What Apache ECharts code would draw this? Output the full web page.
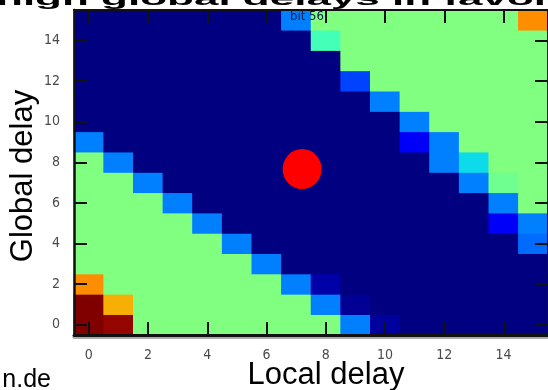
<!DOCTYPE html>
<html>
<head>
<meta charset="utf-8">
<script src="https://cdn.jsdelivr.net/npm/echarts@6/dist/echarts.min.js"></script>
<style>
    html, body { margin: 0; padding: 0; background: #fff; }
    #heat1 { width: 548px; height: 390px; }
</style>
</head>
<body>
<div id="heat1"></div>
<script>
// axis categories (local delay / global delay)
var xCats = ['0','1','2','3','4','5','6','7','8','9','10','11','12','13','14','15'];
var yCats = ['0','1','2','3','4','5','6','7','8','9','10','11','12','13','14','15'];

// cell values, one array per global delay row, col = local delay 0..15
var g15 = [0, 0, 0, 0, 0, 0, 0, 0.25, 0.5, 0.5, 0.5, 0.5, 0.5, 0.5, 0.5, 0.76];
var g14 = [0, 0, 0, 0, 0, 0, 0, 0, 0.43, 0.5, 0.5, 0.5, 0.5, 0.5, 0.5, 0.5];
var g13 = [0, 0, 0, 0, 0, 0, 0, 0, 0, 0.5, 0.5, 0.5, 0.5, 0.5, 0.5, 0.5];
var g12 = [0, 0, 0, 0, 0, 0, 0, 0, 0, 0.19, 0.5, 0.5, 0.5, 0.5, 0.5, 0.5];
var g11 = [0, 0, 0, 0, 0, 0, 0, 0, 0, 0, 0.25, 0.5, 0.5, 0.5, 0.5, 0.5];
var g10 = [0, 0, 0, 0, 0, 0, 0, 0, 0, 0, 0, 0.25, 0.5, 0.5, 0.5, 0.5];
var g9  = [0.25, 0, 0, 0, 0, 0, 0, 0, 0, 0, 0, 0.12, 0.25, 0.5, 0.5, 0.5];
var g8  = [0.5, 0.25, 0, 0, 0, 0, 0, 0, 0, 0, 0, 0, 0.25, 0.34, 0.5, 0.5];
var g7  = [0.5, 0.5, 0.25, 0, 0, 0, 0, 0, 0, 0, 0, 0, 0, 0.25, 0.48, 0.5];
var g6  = [0.5, 0.5, 0.5, 0.25, 0, 0, 0, 0, 0, 0, 0, 0, 0, 0, 0.25, 0.5];
var g5  = [0.5, 0.5, 0.5, 0.5, 0.25, 0, 0, 0, 0, 0, 0, 0, 0, 0, 0.12, 0.25];
var g4  = [0.5, 0.5, 0.5, 0.5, 0.5, 0.25, 0, 0, 0, 0, 0, 0, 0, 0, 0, 0.23];
var g3  = [0.5, 0.5, 0.5, 0.5, 0.5, 0.5, 0.25, 0, 0, 0, 0, 0, 0, 0, 0, 0];
var g2  = [0.76, 0.5, 0.5, 0.5, 0.5, 0.5, 0.5, 0.25, 0.04, 0, 0, 0, 0, 0, 0, 0];
var g1  = [1, 0.72, 0.5, 0.5, 0.5, 0.5, 0.5, 0.5, 0.25, 0.02, 0, 0, 0, 0, 0, 0];
var g0  = [1, 0.98, 0.5, 0.5, 0.5, 0.5, 0.5, 0.5, 0.5, 0.25, 0.03, 0, 0, 0, 0, 0];

var gridRows = [g0, g1, g2, g3, g4, g5, g6, g7, g8, g9, g10, g11, g12, g13, g14, g15];

// red marker (local, global)
var dotPos = [7.2, 7.67];

// jet colormap stops
var jetColors = ['#000080', '#0000ff', '#0080ff', '#14ffe2', '#80ff80', '#e3ff14', '#ff9600', '#ff2100', '#800000'];

var heatData = [];
for (var y = 0; y < gridRows.length; y++) {
    for (var x = 0; x < gridRows[y].length; x++) {
        heatData.push([x, y, gridRows[y][x]]);
    }
}

var heat1 = echarts.init(document.getElementById('heat1'));

var tickStyle = { show: true, inside: true, length: 13, interval: 1, alignWithLabel: true,
                  lineStyle: { color: '#111', width: 2 } };
var labelStyle = { interval: 1, color: '#4a4a4a', fontSize: 14, fontFamily: 'DejaVu Sans Condensed, DejaVu Sans, sans-serif' };

// heatmap drawn twice so the anti-aliased cell seams do not show
function heatSeries(name) {
    return {
        name: name,
        type: 'heatmap',
        xAxisIndex: 0,
        yAxisIndex: 0,
        data: heatData,
        itemStyle: { borderWidth: 0 },
        emphasis: { disabled: true }
    };
}

option = {
    animation: false,
    backgroundColor: '#fff',
    grid: {
        left: 74,
        top: 10,
        width: 477,
        height: 325,
        show: true,
        backgroundColor: '#000080',
        borderWidth: 0
    },
    visualMap: {
        show: false,
        min: 0,
        max: 1,
        seriesIndex: [0, 1],
        dimension: 2,
        inRange: { color: jetColors }
    },
    xAxis: [
        {
            type: 'category',
            position: 'bottom',
            z: 10,
            data: xCats,
            axisLine: { onZero: false, lineStyle: { color: '#111', width: 3, shadowColor: '#aaa', shadowOffsetY: 2 } },
            axisTick: tickStyle,
            axisLabel: Object.assign({ margin: 13 }, labelStyle),
            splitLine: { show: false }
        },
        {
            type: 'category',
            position: 'top',
            z: 10,
            data: xCats,
            axisLine: { onZero: false, lineStyle: { color: '#111', width: 2 } },
            axisTick: tickStyle,
            axisLabel: { show: false },
            splitLine: { show: false }
        },
        {
            type: 'value', min: -0.5, max: 15.5, show: false
        }
    ],
    yAxis: [
        {
            type: 'category',
            position: 'left',
            z: 10,
            data: yCats,
            axisLine: { onZero: false, lineStyle: { color: '#111', width: 2.5 } },
            axisTick: tickStyle,
            axisLabel: Object.assign({ margin: 14 }, labelStyle),
            splitLine: { show: false }
        },
        {
            type: 'category',
            position: 'right',
            z: 10,
            data: yCats,
            axisLine: { onZero: false, lineStyle: { color: '#111', width: 2 } },
            axisTick: tickStyle,
            axisLabel: { show: false },
            splitLine: { show: false }
        },
        {
            type: 'value', min: -0.5, max: 15.5, show: false
        }
    ],
    graphic: [
        {
            type: 'text', x: 0, y: 0, scaleY: 0.4, z: -1,
            style: { x: -4, y: 0, text: 'high global delays in favor', textAlign: 'left', textVerticalAlign: 'middle',
                     font: 'bold 44px "Liberation Sans", Arial, sans-serif', fill: '#000' }
        },
        {
            type: 'text', z: 100,
            style: { x: 290, y: 17, text: 'bit 56', textAlign: 'left', textVerticalAlign: 'middle',
                     font: '13px "DejaVu Sans Condensed", "DejaVu Sans", sans-serif', fill: '#0a1a50' }
        },
        {
            type: 'text', rotation: Math.PI / 2, x: 23, y: 176,
            style: { x: 0, y: 0, text: 'Global delay', textAlign: 'center', textVerticalAlign: 'middle',
                     font: '31px "Liberation Sans", Arial, sans-serif', fill: '#000' }
        },
        {
            type: 'text',
            style: { x: 326, y: 375, text: 'Local delay', textAlign: 'center', textVerticalAlign: 'middle',
                     font: '31px "Liberation Sans", Arial, sans-serif', fill: '#000' }
        },
        {
            type: 'text',
            style: { x: 51, y: 380, text: 'n.de', textAlign: 'right', textVerticalAlign: 'middle',
                     font: '25px "Liberation Sans", Arial, sans-serif', fill: '#000' }
        }
    ],
    series: [
        heatSeries('delay'),
        heatSeries('delay2'),
        {
            name: 'marker',
            type: 'scatter',
            xAxisIndex: 2,
            yAxisIndex: 2,
            symbol: 'circle',
            symbolSize: [39, 40],
            itemStyle: { color: '#ff0000', opacity: 1 },
            data: [dotPos],
            z: 10
        }
    ]
};

heat1.setOption(option);
</script>
</body>
</html>
